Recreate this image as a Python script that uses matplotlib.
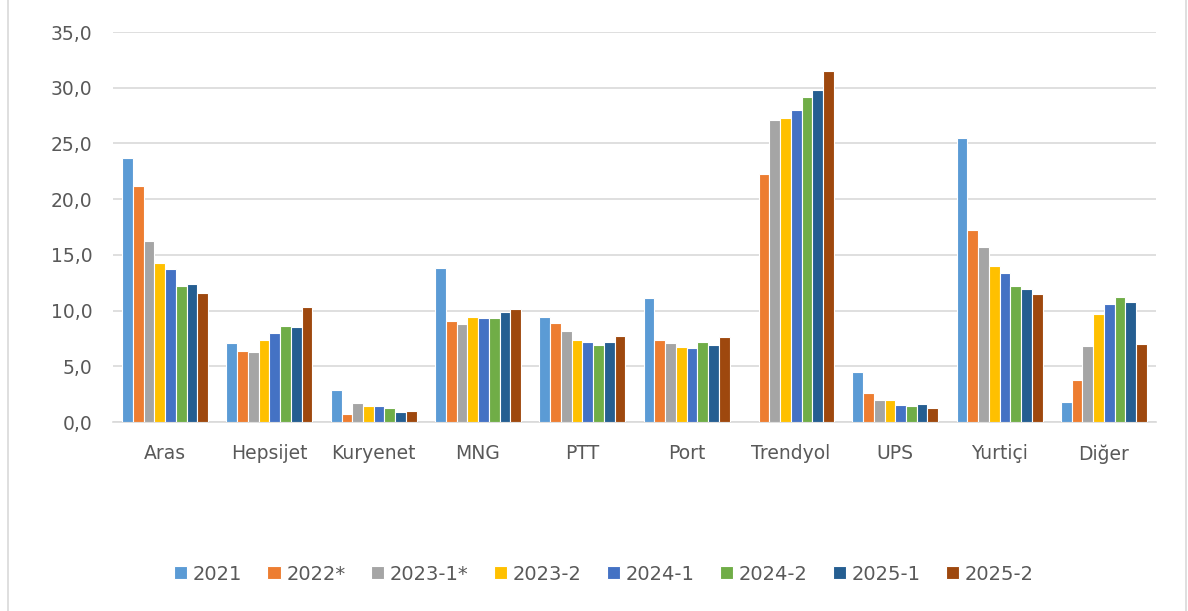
import numpy as np
import matplotlib
matplotlib.use('Agg')
import matplotlib.pyplot as plt
from matplotlib.lines import Line2D

plt.rcParams['font.family'] = ['DejaVu Sans']

# categories and series
companies = ['Aras', 'Hepsijet', 'Kuryenet', 'MNG', 'PTT', 'Port', 'Trendyol', 'UPS', 'Yurtiçi', 'Diğer']
periods = ['2021', '2022*', '2023-1*', '2023-2', '2024-1', '2024-2', '2025-1', '2025-2']
colors = ['#5B9BD5', '#ED7D31', '#A5A5A5', '#FFC000', '#4472C4', '#70AD47', '#255E91', '#9E480E']

s2021 = [23.7, 7.1, 2.9, 13.8, 9.4, 11.1, np.nan, 4.5, 25.5, 1.8]
s2022 = [21.2, 6.4, 0.7, 9.1, 8.9, 7.4, 22.3, 2.6, 17.2, 3.8]
s2023_1 = [16.2, 6.3, 1.7, 8.8, 8.2, 7.1, 27.1, 2.0, 15.7, 6.8]
s2023_2 = [14.3, 7.4, 1.4, 9.4, 7.4, 6.7, 27.3, 2.0, 14.0, 9.7]
s2024_1 = [13.7, 8.0, 1.4, 9.3, 7.2, 6.6, 28.0, 1.5, 13.4, 10.6]
s2024_2 = [12.2, 8.6, 1.3, 9.3, 6.9, 7.2, 29.2, 1.4, 12.2, 11.2]
s2025_1 = [12.4, 8.5, 0.9, 9.9, 7.2, 6.9, 29.8, 1.6, 11.9, 10.8]
s2025_2 = [11.6, 10.3, 1.0, 10.1, 7.7, 7.6, 31.5, 1.3, 11.5, 7.0]
series = [s2021, s2022, s2023_1, s2023_2, s2024_1, s2024_2, s2025_1, s2025_2]

fig = plt.figure(figsize=(11.88, 6.11), dpi=100)
ax = fig.add_axes([113/1188, 189/611, 1043/1188, 390/611])

x = np.arange(len(companies))
w = 0.103
for i, (vals, c, lab) in enumerate(zip(series, colors, periods)):
    ax.bar(x + (i - 3.5) * w, vals, width=w, color=c, edgecolor='white',
           linewidth=0.8, label=lab, zorder=3)

ax.set_xlim(-0.5, len(companies) - 0.5)
ax.set_ylim(0, 35)
ax.set_yticks(np.arange(0, 36, 5))
ax.set_yticklabels([f'{v:.1f}'.replace('.', ',') for v in np.arange(0, 36, 5)])
ax.set_xticks(x)
ax.set_xticklabels(companies)
ax.tick_params(axis='both', length=0, labelsize=13.5, colors='#595959')
ax.tick_params(axis='x', pad=16)
ax.tick_params(axis='y', pad=15)
ax.grid(axis='y', color='#D9D9D9', linewidth=1.2, zorder=0)
for s in ['top', 'right', 'left']:
    ax.spines[s].set_visible(False)
ax.spines['bottom'].set_color('#D9D9D9')
ax.spines['bottom'].set_linewidth(1.2)

leg = fig.legend(loc='center', bbox_to_anchor=(604/1188, 1 - 574/611), ncol=8,
                 frameon=False, handlelength=0.67, handleheight=0.67,
                 handletextpad=0.31, columnspacing=1.29, fontsize=14)
for t in leg.get_texts():
    t.set_color('#595959')

# chart frame
fig.add_artist(Line2D([8/1188, 8/1188], [0, 1], color='#D9D9D9', linewidth=1.2))
fig.add_artist(Line2D([1186/1188, 1186/1188], [0, 1], color='#D9D9D9', linewidth=1.2))

fig.savefig('out.png', dpi=100)
